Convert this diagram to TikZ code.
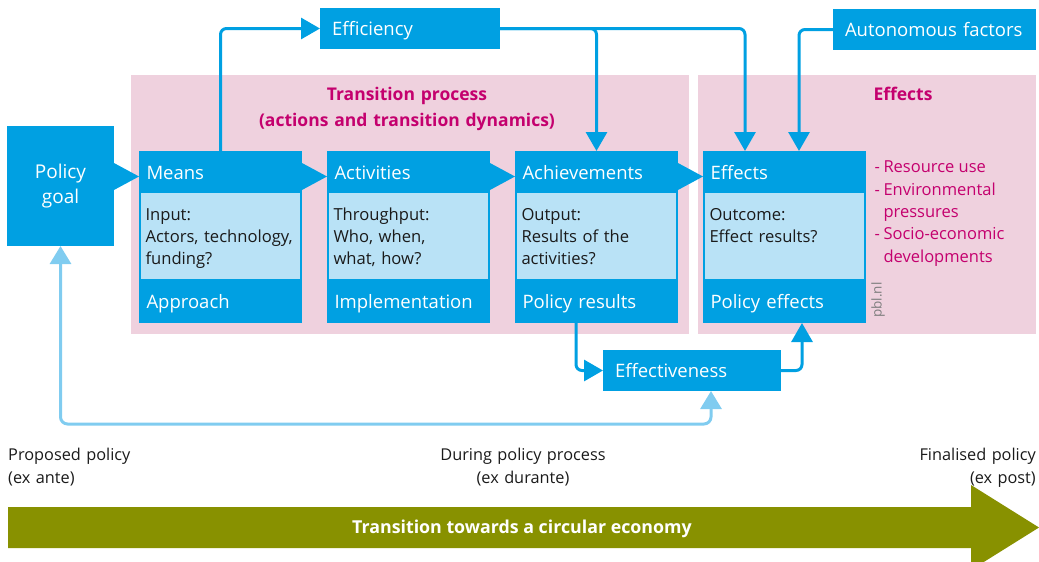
\documentclass[tikz,border=0pt]{standalone}
\usepackage{fontspec}
\setmainfont{Open Sans}
\usepackage{tikz}
\usetikzlibrary{positioning}
\usetikzlibrary{arrows.meta}
\usetikzlibrary{calc}

\definecolor{pblblue}{RGB}{0,160,226}
\definecolor{pbllight}{RGB}{185,226,246}
\definecolor{pblpink}{RGB}{239,209,222}
\definecolor{pblmagenta}{RGB}{196,0,110}
\definecolor{pblolive}{RGB}{136,145,0}
\definecolor{pblfeed}{RGB}{128,204,240}
\definecolor{pbltext}{RGB}{26,26,26}
\definecolor{pblgray}{RGB}{125,125,125}

\begin{document}
\begin{tikzpicture}[x=1pt, y=-1pt,
    stagehead/.style={fill=pblblue, text=white, anchor=north west, outer sep=0pt,
      inner ysep=0pt, inner xsep=7.5pt, text width=148pt, align=left,
      text height=28.3pt, text depth=12.7pt, font=\fontsize{18.5}{24}\selectfont},
    stagebody/.style={fill=pbllight, draw=pblblue, line width=2pt, text=pbltext, outer sep=0pt,
      inner ysep=0pt, inner xsep=5.5pt, text width=150pt, align=left,
      text height=28pt, text depth=60pt, font=\fontsize{16.6}{22.2}\selectfont},
    stagefoot/.style={stagehead, text height=28pt, text depth=15pt},
    singlebox/.style={fill=pblblue, text=white, anchor=north west, outer sep=0pt,
      inner ysep=0pt, inner xsep=12pt, text width=#1, align=left,
      text height=27pt, text depth=14pt, font=\fontsize{18.5}{24}\selectfont},
    flow/.style={draw=pblblue, line width=3pt, rounded corners=6pt,
      -{Triangle[length=19pt, width=21pt]}},
    feedback/.style={draw=pblfeed, line width=3pt, rounded corners=7pt,
      {Triangle[length=18pt, width=21pt]}-{Triangle[length=18pt, width=21pt]}},
    title/.style={text=pblmagenta, inner sep=0pt, anchor=base,
      font=\fontsize{17.5}{26}\selectfont\bfseries},
    timelabel/.style={text=pbltext, inner sep=0pt, text width=200pt,
      font=\fontsize{16.3}{23}\selectfont}]

  % Fix the size of the picture
  \useasboundingbox (0,0) rectangle (1039,562);
  \clip (0,0) rectangle (1039,562);

  % Pink backgrounds
  \fill[pblpink] (131,75) rectangle (689,334);
  \fill[pblpink] (698,75) rectangle (1036,334);

  \node[title, text width=400pt, align=center] (transtitle) at (407,100.7)
    {Transition process\\(actions and transition dynamics)};
  \node[title] (effectstitle) at (903,100.7) {Effects};

  % Policy goal
  \node[fill=pblblue, text=white, anchor=north west, outer sep=0pt, inner sep=0pt,
    minimum width=107pt, minimum height=120pt, text width=107pt, align=center,
    font=\fontsize{19}{25}\selectfont] (goal) at (7,126) {Policy\\goal};

  % The four stages: head, body and foot
  \foreach \n/\x/\head/\body/\foot in {
      means/139/Means/{Input:\\Actors, technology,\\funding?}/Approach,
      activities/327/Activities/{Throughput:\\Who, when,\\what, how?}/Implementation,
      achieve/515/Achievements/{Output:\\Results of the\\activities?}/Policy results,
      effects/703/Effects/{Outcome:\\Effect results?}/Policy effects}
    {
      \node[stagehead] (\n) at (\x,151) {\head};
      \node[stagebody, below=0pt of \n] (\n-body) {\body};
      \node[stagefoot, below=0pt of \n-body] (\n-foot) {\foot};
    }

  % Arrows from one stage to the next
  \foreach \a/\b in {goal/means, means/activities, activities/achieve, achieve/effects}
    \fill[pblblue] ($(\a.east |- \b.north)+(0,12)$) -- ($(\b.north west)+(0,25.5)$)
      -- ($(\a.east |- \b.north)+(0,39)$) -- cycle;

  % Side effects list
  \node[text=pblmagenta, inner sep=0pt, anchor=base west,
    font=\fontsize{16.5}{22.4}\selectfont] (effectlist) at (874.5,172.7)
    {\begin{tabular}[t]{@{}l@{\hspace{3.5pt}}l@{}}
      - & Resource use\\
      - & Environmental\\
        & pressures\\
      - & Socio-economic\\
        & developments
    \end{tabular}};
  \node[rotate=90, text=pblgray, inner sep=0pt,
    font=\fontsize{13.5}{14}\selectfont] (pbl) at (878,300) {pbl.nl};

  % Boxes outside the stages
  \node[singlebox=156pt] (efficiency) at (320,8) {Efficiency};
  \node[singlebox=179pt] (autonomous) at (833,9) {Autonomous factors};
  \node[singlebox=154pt] (effectiveness) at (603,350) {Effectiveness};

  % Connectors
  \draw[flow] (means.north) |- (efficiency.west);
  \draw[flow] (efficiency.east) -| (achieve.north);
  \draw[flow] (efficiency.east) -| ([xshift=-39.5pt]effects.north);
  \draw[flow] (autonomous.west) -| ([xshift=14.5pt]effects.north);
  \draw[flow] ([xshift=-20.5pt]achieve-foot.south) |- (effectiveness.west);
  \draw[flow] (effectiveness.east) -| ([xshift=17.5pt]effects-foot.south);
  \draw[feedback] (goal.south) -- ++(0,178) -| ([xshift=19pt]effectiveness.south);

  % Time line at the bottom
  \node[timelabel, align=left, anchor=base west] (exante) at (8,460)
    {Proposed policy\\(ex ante)};
  \node[timelabel, align=center, anchor=base] (exdurante) at (523,460)
    {During policy process\\(ex durante)};
  \node[timelabel, align=right, anchor=base east] (expost) at (1036,460)
    {Finalised policy\\(ex post)};

  \fill[pblolive] (8,507) -- (971,507) -- (971,485) -- (1039,527.5) -- (971,570)
    -- (971,548) -- (8,548) -- cycle;
  \node[text=white, inner sep=0pt, anchor=base,
    font=\fontsize{17.8}{20}\selectfont\bfseries] (transition) at (522,533)
    {Transition towards a circular economy};
\end{tikzpicture}
\end{document}
